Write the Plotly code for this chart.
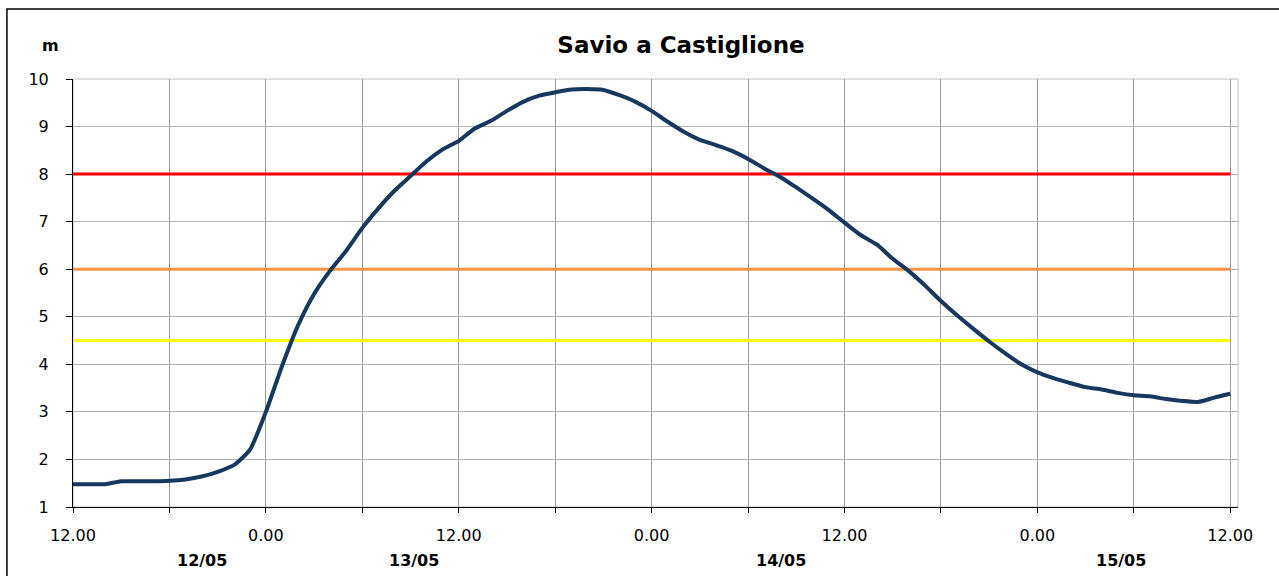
import plotly.graph_objects as go

# Hydrometric level, Savio a Castiglione: hourly readings from 12/05 12:00
hours = list(range(0, 73))
level_m = [
    1.48, 1.48, 1.48, 1.54, 1.54, 1.54, 1.55, 1.58, 1.64, 1.74,
    1.88, 2.20, 3.00, 3.96, 4.82, 5.48, 5.97, 6.39, 6.87, 7.28,
    7.65, 7.96, 8.27, 8.52, 8.70, 8.96, 9.12, 9.33, 9.52, 9.65,
    9.72, 9.78, 9.79, 9.77, 9.66, 9.52, 9.33, 9.10, 8.89, 8.72,
    8.61, 8.49, 8.32, 8.12, 7.94, 7.72, 7.49, 7.25, 6.98, 6.72,
    6.52, 6.22, 5.96, 5.66, 5.33, 5.03, 4.75, 4.48, 4.23, 4.00,
    3.83, 3.71, 3.61, 3.52, 3.47, 3.40, 3.35, 3.33, 3.27, 3.23,
    3.21, 3.30, 3.38,
]

# Warning thresholds (m)
threshold_names = ["Soglia 1", "Soglia 2", "Soglia 3"]
threshold_levels = [4.5, 6.0, 8.0]
threshold_colors = ["#FFFF00", "#F79646", "#FF0000"]

# Axis labelling
tick_hours = list(range(0, 73, 6))
tick_labels = ["12.00", "", "0.00", "", "12.00", "", "0.00", "", "12.00", "", "0.00", "", "12.00"]
day_labels = ["12/05", "13/05", "14/05", "15/05"]
day_label_hours = [8.0, 21.2, 44.05, 65.2]

FONT = "DejaVu Sans"

fig = go.Figure()

for name, lvl, col in zip(threshold_names, threshold_levels, threshold_colors):
    fig.add_trace(go.Scatter(
        x=hours, y=[lvl] * len(hours), mode="lines", name=name,
        line=dict(color=col, width=3), hoverinfo="skip",
    ))

fig.add_trace(go.Scatter(
    x=hours, y=level_m, mode="lines", name="Livello",
    line=dict(color="#17375E", width=4, shape="spline", smoothing=0.6),
))

# Plot-area frame (top and right edges in light grey)
fig.add_shape(type="rect", xref="paper", yref="paper", x0=0, x1=1, y0=0, y1=1,
              line=dict(color="#BFBFBF", width=1), layer="below")
# Outer chart frame
fig.add_shape(type="rect", xref="paper", yref="paper",
              x0=-0.0567, x1=1.2, y0=-0.4, y1=1.1634,
              line=dict(color="black", width=1.5), layer="below")

fig.add_annotation(text="m", xref="paper", yref="paper", x=-0.0189, y=1.078,
                   showarrow=False, xanchor="center", yanchor="middle",
                   font=dict(family=FONT, size=16, color="black", weight=700))

for lab, h in zip(day_labels, day_label_hours):
    fig.add_annotation(text=lab, xref="x", yref="paper", x=h, y=-0.1255,
                       showarrow=False, xanchor="center", yanchor="middle",
                       font=dict(family=FONT, size=16, color="black", weight=700))

fig.update_layout(
    width=1279, height=576,
    margin=dict(l=73, r=41, t=79, b=69),
    paper_bgcolor="white", plot_bgcolor="white",
    showlegend=False,
    font=dict(family=FONT, size=16, color="black"),
    title=dict(text="Savio a Castiglione", x=681 / 1279, xanchor="center",
               y=1 - 45 / 576, yanchor="middle", yref="container",
               font=dict(family=FONT, size=23, color="black", weight=700)),
    xaxis=dict(
        range=[0, 72.48], tickmode="array", tickvals=tick_hours, ticktext=tick_labels,
        showgrid=True, gridcolor="#9A9A9A", gridwidth=1,
        showline=True, linecolor="black", linewidth=1,
        ticks="outside", ticklen=5, tickcolor="black", tickwidth=1,
        ticklabelstandoff=9, zeroline=False,
        tickfont=dict(family=FONT, size=16, color="black"),
    ),
    yaxis=dict(
        range=[1, 10], dtick=1, tick0=1,
        showgrid=True, gridcolor="#B4B4B4", gridwidth=1,
        showline=True, linecolor="black", linewidth=1,
        ticks="outside", ticklen=6, tickcolor="black", tickwidth=1,
        ticklabelstandoff=14, zeroline=False,
        tickfont=dict(family=FONT, size=16, color="black"),
    ),
)

fig.write_html("out.html")
